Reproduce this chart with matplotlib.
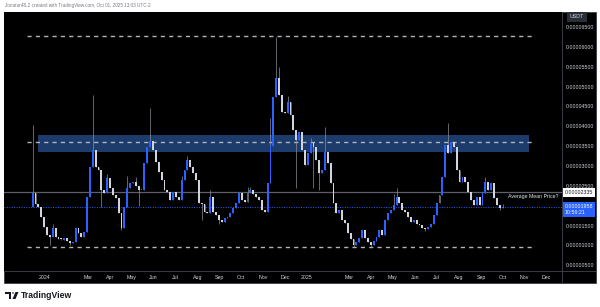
"""plot.py - 4D candles with support / resistance levels, TradingView style"""
import numpy as np
import pandas as pd
import matplotlib
matplotlib.use("Agg")
import matplotlib.pyplot as plt
import matplotlib.dates as mdates
from matplotlib.patches import Rectangle, Circle, Polygon
from matplotlib.lines import Line2D

plt.rcParams["font.family"] = ["Liberation Sans", "DejaVu Sans"]

W, H = 600, 307

# prices are in units of 1e-5 USDT, one candle every 4 days
start_date = "2023-12-15"
first_open = 1.97
closes = [
    2.32, 2.05, 1.97, 1.71, 1.45, 1.25, 1.20, 1.44, 1.22, 1.15,
    1.13, 1.18, 1.12, 1.06, 1.08, 1.44, 1.31, 1.21, 1.34, 2.22,
    2.97, 3.40, 2.97, 2.90, 2.39, 2.32, 2.69, 2.44, 2.27, 2.19,
    1.81, 1.44, 1.97, 2.44, 2.57, 2.60, 2.50, 2.39, 2.40, 3.07,
    3.48, 3.63, 3.40, 3.10, 2.85, 2.65, 2.40, 2.34, 2.14, 2.34,
    2.22, 2.14, 2.65, 2.90, 3.15, 2.97, 2.82, 2.65, 2.07, 2.03,
    1.84, 1.81, 2.22, 1.84, 1.76, 1.65, 1.59, 1.69, 1.71, 1.81,
    1.95, 2.07, 2.32, 2.14, 2.09, 2.32, 2.39, 2.30, 2.22, 2.14,
    1.89, 1.84, 2.57, 3.50, 4.74, 5.21, 4.79, 4.36, 4.33, 4.61,
    4.28, 3.91, 3.65, 3.86, 3.40, 3.02, 3.33, 3.58, 3.48, 3.15,
    2.82, 2.90, 3.35, 3.07, 2.57, 2.07, 1.81, 1.89, 1.64, 1.56,
    1.31, 1.15, 1.01, 1.08, 1.18, 1.39, 1.18, 1.08, 1.01, 1.10,
    1.20, 1.39, 1.26, 1.64, 1.81, 1.89, 2.02, 2.22, 2.07, 1.89,
    1.84, 1.71, 1.59, 1.64, 1.55, 1.51, 1.44, 1.40, 1.46, 1.55,
    1.76, 2.07, 2.27, 2.72, 3.53, 3.33, 3.60, 3.48, 2.90, 2.60,
    2.72, 2.60, 2.34, 2.14, 2.02, 2.22, 2.02, 2.32, 2.60, 2.39,
    2.57, 2.19, 2.02, 1.94, 1.96,
]
# wicks that stick out of the bodies (candle index -> price)
wick_highs = {0: 4.03, 7: 1.55, 21: 4.79, 26: 2.80, 33: 2.75, 36: 2.72,
              41: 4.46, 52: 2.75, 54: 3.25, 62: 2.40, 75: 2.47, 76: 2.48,
              83: 4.20, 85: 6.25, 86: 5.50, 89: 4.75, 97: 3.70, 102: 3.98,
              126: 2.30, 127: 2.45, 145: 4.08, 158: 2.72, 164: 2.05}
wick_lows = {6: 1.02, 13: 1.00, 24: 1.97, 31: 1.39, 37: 2.00, 59: 1.65,
             65: 1.55, 92: 2.45, 98: 2.45, 100: 2.40, 112: 0.97, 118: 0.96,
             137: 1.35, 163: 1.90}

# levels
top_level = 6.27
bottom_level = 0.96
zone_low, zone_high, zone_mid = 3.35, 3.78, 3.61
avg_price = 2.335
last_price = 1.958
levels_from, levels_to = "2023-12-07", "2025-11-11"
zone_from, zone_to = "2023-12-23", "2025-11-07"

month_ticks = ["2024-01-01", "2024-03-01", "2024-04-01", "2024-05-01", "2024-06-01",
               "2024-07-01", "2024-08-01", "2024-09-01", "2024-10-01", "2024-11-01",
               "2024-12-01", "2025-01-01", "2025-03-01", "2025-04-01", "2025-05-01",
               "2025-06-01", "2025-07-01", "2025-08-01", "2025-09-01", "2025-10-01",
               "2025-11-01", "2025-12-01"]
month_labels = ["2024", "Mar", "Apr", "May", "Jun", "Jul", "Aug", "Sep", "Oct", "Nov",
                "Dec", "2025", "Mar", "Apr", "May", "Jun", "Jul", "Aug", "Sep", "Oct",
                "Nov", "Dec"]
# 0.00002000 is hidden behind the last-price label
price_ticks = [0.5, 1.0, 1.5, 2.5, 3.0, 3.5, 4.0, 4.5, 5.0, 5.5, 6.0, 6.5]

UP, DOWN, WICK = "#2962ff", "#d1d4dc", "#8c8f99"
TXT = "#d1d4dc"


def d2n(s):
    return mdates.date2num(pd.Timestamp(s).to_pydatetime())


def fx(px):
    return px / W


def fy(py):
    return 1 - py / H


fig = plt.figure(figsize=(W / 100, H / 100), dpi=100, facecolor="white")

# black chart panel + separators
fig.patches.append(Rectangle((fx(4), fy(283)), fx(592), (283 - 12) / H,
                             transform=fig.transFigure, facecolor="black",
                             edgecolor="#2a2e39", lw=0.5, zorder=-5))
fig.lines.append(Line2D([fx(562), fx(562)], [fy(12), fy(283)], transform=fig.transFigure,
                        color="#434651", lw=0.6, zorder=5))
fig.lines.append(Line2D([fx(4), fx(596)], [fy(271), fy(271)], transform=fig.transFigure,
                        color="#434651", lw=0.6, zorder=5))

ax = fig.add_axes([fx(4), fy(271), fx(558), (271 - 12) / H])
ax.set_facecolor("black")
for s in ax.spines.values():
    s.set_visible(False)

dates = pd.date_range(start_date, periods=len(closes), freq="4D")
x = mdates.date2num(dates.to_pydatetime())
c = np.array(closes)
o = np.array([first_open] + closes[:-1])
hi = np.maximum(o, c)
lo = np.minimum(o, c)
for i, v in wick_highs.items():
    hi[i] = v
for i, v in wick_lows.items():
    lo[i] = v
up = c >= o

# levels
x0, x1 = d2n(levels_from), d2n(levels_to)
ax.add_patch(Rectangle((d2n(zone_from), zone_low), d2n(zone_to) - d2n(zone_from),
                       zone_high - zone_low, facecolor="#1d3c6c", edgecolor="none", zorder=1))
for lvl in (top_level, zone_mid, bottom_level):
    ax.hlines(lvl, x0, x1, colors="#b2b5be", lw=1.0, linestyles=(0, (3, 3)), zorder=2)
ax.axhline(avg_price, color="#5d606b", lw=0.9, zorder=2)
ax.axhline(last_price, color=UP, lw=0.7, linestyle=(0, (1, 1.5)), zorder=2)

# candles
ax.vlines(x, lo, hi, colors=WICK, lw=0.5, zorder=3)
body = np.where(np.abs(c - o) < 0.03, 0.03, c - o)
ax.bar(x[up], body[up], bottom=o[up], width=2.6, color=UP, lw=0, zorder=4)
ax.bar(x[~up], body[~up], bottom=o[~up], width=2.6, color=DOWN, lw=0, zorder=4)

ax.set_xlim(d2n("2023-11-05"), d2n("2025-12-23"))
ax.set_ylim(0.354, 6.878)

ax.set_xticks([d2n(d) for d in month_ticks])
ax.set_xticklabels(month_labels)
ax.yaxis.tick_right()
ax.set_yticks(price_ticks)
ax.set_yticklabels([f"{v * 1e-5:.8f}" for v in price_ticks])
ax.tick_params(axis="x", length=0, pad=3.2, labelsize=3.8, labelcolor=TXT)
ax.tick_params(axis="y", length=0, pad=3.0, labelsize=3.8, labelcolor=TXT)

ax.text(0.993, avg_price - 0.04, "Average Mean Price?", transform=ax.get_yaxis_transform(),
        ha="right", va="top", fontsize=3.8, color="#e0e3eb", zorder=5)

# price axis labels
yt = ax.get_yaxis_transform()
ax.text(1.005, avg_price, f"{avg_price * 1e-5:.8f}", transform=yt, ha="left", va="center",
        fontsize=3.8, color="#131722", clip_on=False, zorder=6,
        bbox=dict(boxstyle="square,pad=0.35", fc="white", ec="none"))
ax.text(1.005, last_price - 0.05, f"{last_price * 1e-5:.8f}\n10:56:21", transform=yt,
        ha="left", va="center", fontsize=3.8, color="white", clip_on=False, zorder=6,
        linespacing=1.2, bbox=dict(boxstyle="square,pad=0.35", fc=UP, ec="none"))
fig.text(fx(570), fy(17), "USDT", ha="left", va="center", fontsize=3.8, color=TXT,
         bbox=dict(boxstyle="square,pad=0.5", fc="#2a2e39", ec="none"))

# header + logo
fig.text(fx(5), fy(5.5), "JonatanRL2 created with TradingView.com, Oct 01, 2025 13:03 UTC-2",
         ha="left", va="center", fontsize=3.3, color="#787b86")
fig.patches.append(Rectangle((fx(5), fy(294)), fx(6), 2 / H, transform=fig.transFigure,
                             fc="#131722", ec="none"))
fig.patches.append(Rectangle((fx(9), fy(299)), fx(2), 5 / H, transform=fig.transFigure,
                             fc="#131722", ec="none"))
fig.patches.append(Circle((fx(13), fy(293)), 1.1 / W, transform=fig.transFigure,
                          fc="#131722", ec="none"))
fig.patches.append(Polygon([(fx(15.5), fy(292)), (fx(18.5), fy(292)), (fx(15.5), fy(299)),
                            (fx(12.5), fy(299))], closed=True, transform=fig.transFigure,
                           fc="#131722", ec="none"))
fig.text(fx(20.5), fy(295.5), "TradingView", ha="left", va="center", fontsize=6.2,
         fontweight="bold", color="#131722")

fig.savefig("out.png", dpi=100, facecolor="white")
